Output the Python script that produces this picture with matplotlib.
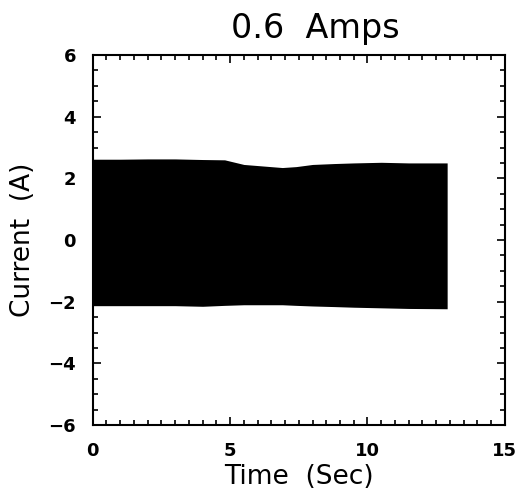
import numpy as np
from matplotlib import pyplot as plt
from matplotlib.ticker import MultipleLocator

# === DATA (envelope of the fast oscillating current) ===
time_s = [0.0, 1.0, 2.0, 3.0, 4.0, 4.8, 5.5, 6.2, 6.9, 7.4, 8.0, 8.8, 9.5, 10.5, 11.5, 12.9]
upper_a = [2.62, 2.62, 2.63, 2.63, 2.61, 2.60, 2.45, 2.40, 2.35, 2.38, 2.45, 2.48, 2.50, 2.52, 2.50, 2.50]
lower_a = [-2.13, -2.13, -2.13, -2.13, -2.15, -2.12, -2.10, -2.10, -2.10, -2.12, -2.14, -2.16, -2.18, -2.20, -2.22, -2.23]

x_ticks = [0, 5, 10, 15]
y_ticks = [-6, -4, -2, 0, 2, 4, 6]

# === PLOT ===
fig = plt.figure(figsize=(5.21, 5.0), dpi=100)
ax = fig.add_axes([0.178, 0.15, 0.791, 0.74])

ax.fill_between(time_s, lower_a, upper_a, color='black', linewidth=0)

ax.set_xlim(0, 15)
ax.set_ylim(-6, 6)
ax.set_xticks(x_ticks)
ax.set_yticks(y_ticks)
ax.xaxis.set_minor_locator(MultipleLocator(0.5))
ax.yaxis.set_minor_locator(MultipleLocator(0.5))

ax.tick_params(which='both', direction='in', top=True, right=True, width=1.2, colors='black')
ax.tick_params(which='major', length=6, pad=12)
ax.tick_params(which='minor', length=3.5)
for lbl in ax.get_xticklabels() + ax.get_yticklabels():
    lbl.set_fontsize(13)
    lbl.set_fontweight('bold')

for spine in ax.spines.values():
    spine.set_linewidth(1.5)

ax.set_title('0.6  Amps', fontsize=24, pad=12, x=0.54)
ax.set_xlabel('Time  (Sec)', fontsize=19, labelpad=3)
ax.set_ylabel('Current  (A)', fontsize=19, labelpad=9)

plt.savefig('out.png', dpi=100)
